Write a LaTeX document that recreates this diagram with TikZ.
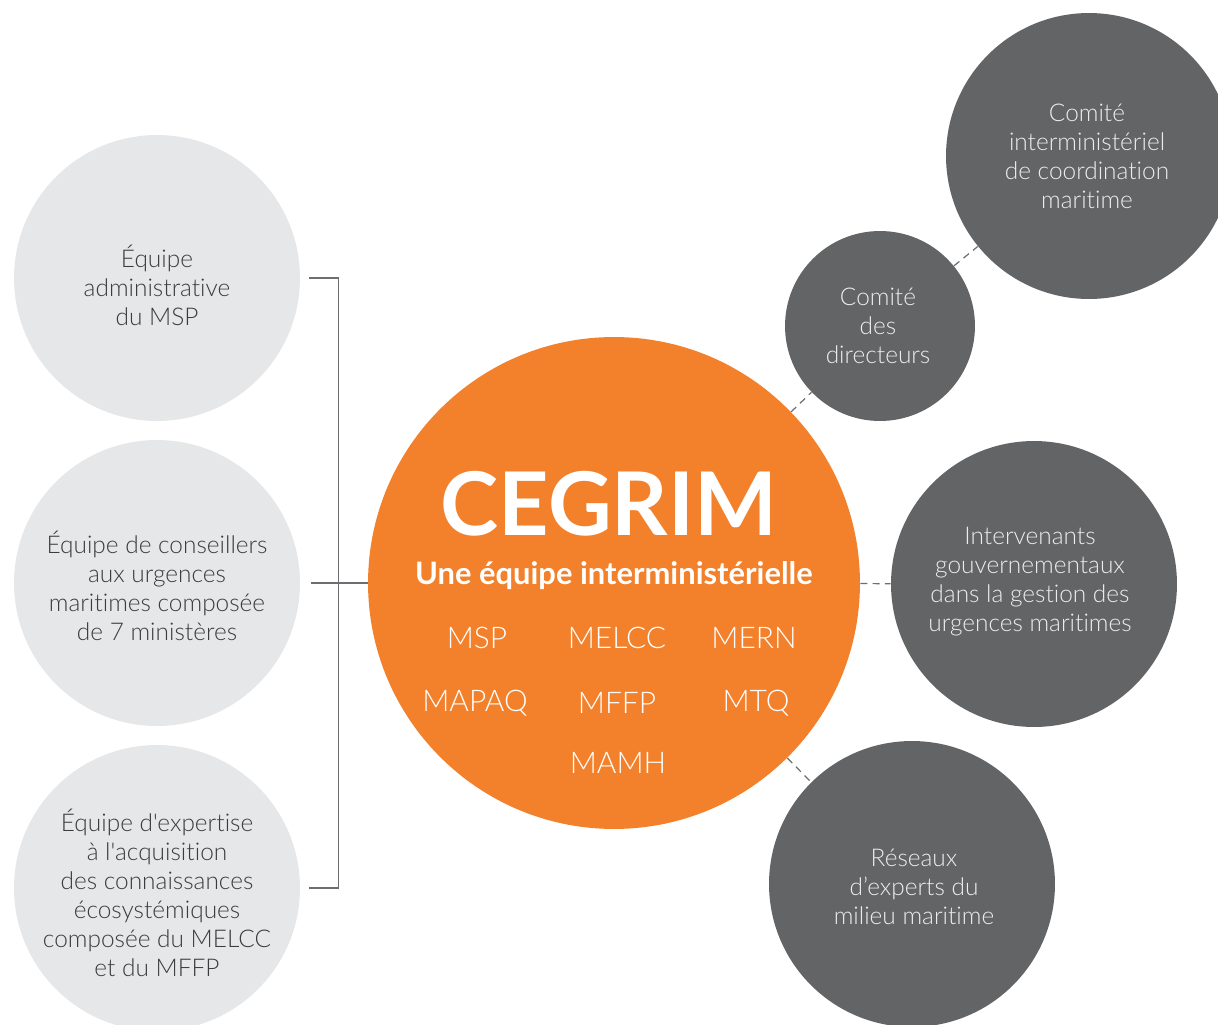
\documentclass[tikz,border=0pt]{standalone}
\usepackage{fontspec}
\setmainfont{Lato}[UprightFont=* Light, BoldFont=* Bold, Ligatures={NoCommon,TeXOff}]
\usetikzlibrary{calc}
\definecolor{orangeC}{HTML}{F3802A}
\definecolor{darkC}{HTML}{636466}
\definecolor{lightC}{HTML}{E6E7E8}
\definecolor{inkC}{HTML}{3C3C3E}
\definecolor{paleC}{HTML}{EDEDED}
\definecolor{lineC}{HTML}{6D6E71}
\begin{document}
\begin{tikzpicture}[x=0.02cm,y=-0.02cm,
  teambox/.style={circle,fill=lightC,inner sep=0,minimum size=5.72cm},
  groupbox/.style={circle,fill=darkC,inner sep=0,minimum size=5.72cm},
  smallbox/.style={groupbox,minimum size=3.8cm},
  teamtext/.style={align=center,text=inkC,font=\fontsize{13.9}{16.5}\selectfont},
  grouptext/.style={align=center,text=paleC,font=\fontsize{13.9}{16.5}\selectfont},
  link/.style={draw=lineC,line width=0.7pt,dash pattern=on 4pt off 3pt},
  bracket/.style={draw=lineC,line width=0.9pt},
  ministry/.style={text=white,font=\fontsize{17}{19}\selectfont}]
\useasboundingbox (0,0) rectangle (1218,1025);
\clip (0,0) rectangle (1218,1025);

% left: the three teams
\node[teambox] (adm) at (157,278) {};
\node[teamtext] (admT) at ($(adm)+(0,7)$) {Équipe\\administrative\\du MSP};
\node[teambox] (cons) at (157,583) {};
\node[teamtext] (consT) at ($(cons)+(0,3)$) {Équipe de conseillers\\aux urgences\\maritimes composée\\de 7 ministères};
\node[teambox] (exp) at (157,888) {};
\node[teamtext] (expT) at ($(exp)+(0,5)$) {Équipe d'expertise\\à l'acquisition\\des connaissances\\écosystémiques\\composée du MELCC\\et du MFFP};

% centre
\node[circle,fill=orangeC,inner sep=0,minimum size=9.84cm] (cegrim) at (614,583) {};
\node[text=white,font=\bfseries\fontsize{50}{50}\selectfont] (title) at (609,504) {CEGRIM};
\node[text=white,font=\bfseries\fontsize{17.6}{19}\selectfont] (sub) at (614,576) {Une équipe interministérielle};
\node[ministry] (msp) at (477,638) {MSP};
\node[ministry] (melcc) at (617,638) {MELCC};
\node[ministry] (mern) at (754,638) {MERN};
\node[ministry] (mapaq) at (475,703) {MAPAQ};
\node[ministry] (mffp) at (617,703) {MFFP};
\node[ministry] (mtq) at (756,703) {MTQ};
\node[ministry] (mamh) at (618,763) {MAMH};

% right: partner bodies
\node[groupbox] (cicm) at (1089,156) {};
\node[grouptext] (cicmT) at ($(cicm)+(-2,0)$) {Comité\\interministériel\\de coordination\\maritime};
\node[smallbox] (dir) at (880,326) {};
\node[grouptext] (dirT) at ($(dir)+(-2,0)$) {Comité\\des\\directeurs};
\node[groupbox] (interv) at (1034,584) {};
\node[grouptext] (intervT) at ($(interv)+(-4,-2)$) {Intervenants\\gouvernementaux\\dans la gestion des\\urgences maritimes};
\node[groupbox] (res) at (912,884) {};
\node[grouptext] (resT) at ($(res)+(2,3)$) {Réseaux\\d’experts du\\milieu maritime};

% dashed links
\draw[link] (cegrim) -- (dir);
\draw[link] (dir) -- (cicm);
\draw[link] (cegrim) -- (interv);
\draw[link] (cegrim) -- (res);

% bracket grouping the teams
\coordinate (btop) at ($(adm.east)+(9,0)$);
\coordinate (bbot) at ($(exp.east)+(9,0)$);
\coordinate (bmid) at ($(cons.east)+(11,0)$);
\draw[bracket] (btop) -- ++(29,0) |- (bbot);
\draw[bracket] (bmid) -- (cegrim.west);
\end{tikzpicture}
\end{document}
